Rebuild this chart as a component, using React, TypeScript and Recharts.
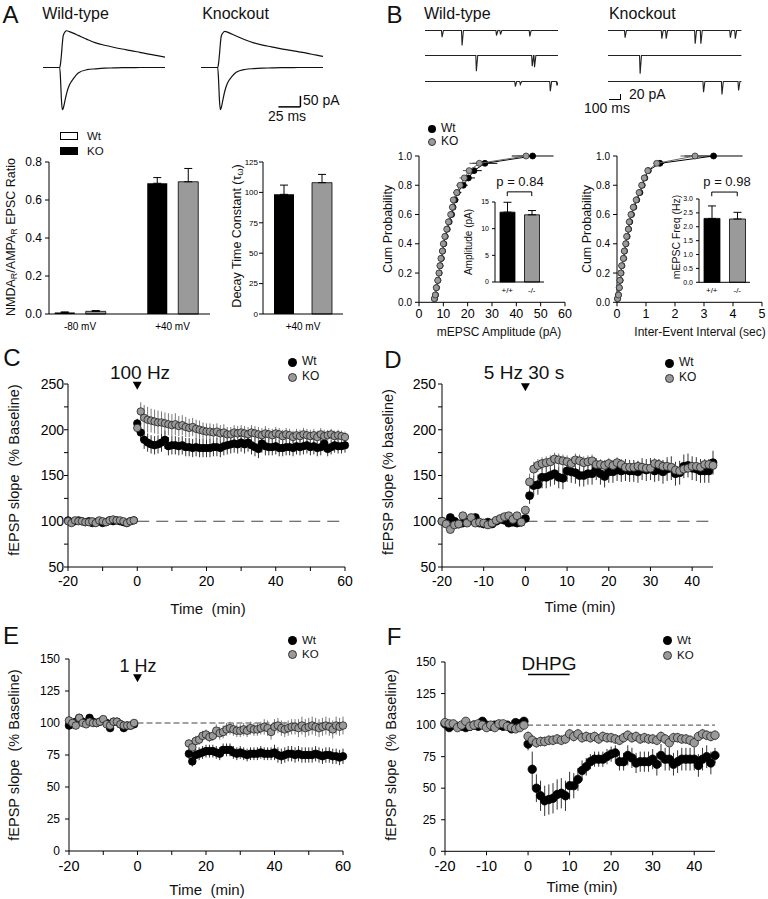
import type { ReactNode } from 'react'
import {
  Bar,
  BarChart,
  Cell,
  ComposedChart,
  ErrorBar,
  Line,
  LineChart,
  ReferenceDot,
  ReferenceLine,
  Scatter,
  XAxis,
  YAxis,
} from 'recharts'

const FONT = '"Liberation Sans", Arial, Helvetica, sans-serif'
const GREY = '#9a9a9a'

// ---------- A: evoked EPSCs (ms, pA) ----------
const epscTime = [0, 19, 20, 21, 22, 23, 25, 27, 30, 35, 40, 50, 60, 70, 80, 90, 100, 110, 120, 130, 139]
const wtPlus40 = [0, 0, 20, 60, 110, 145, 162, 167, 163, 155, 146, 128, 112, 101, 92, 84, 77, 69, 61, 54, 47]
const wtMinus80 = [0, 0, -60, -150, -192, -185, -150, -115, -80, -48, -25, -10, -6, -3, -2, -1, -1, 0, 0, 0, 0]
const koPlus40 = [0, 0, 20, 60, 108, 142, 158, 164, 161, 152, 143, 126, 112, 102, 94, 86, 79, 72, 65, 57, 50]
const koMinus80 = [0, 0, -60, -150, -192, -183, -145, -108, -72, -42, -22, -9, -5, -3, -2, -1, -1, 0, 0, 0, 0]

const ratioGroups = ['-80 mV', '+40 mV']
const ratioWt = [0.008, 0.688]
const ratioWtErr = [0.003, 0.03]
const ratioKo = [0.014, 0.696]
const ratioKoErr = [0.004, 0.07]

const decayGroups = ['+40 mV']
const decayWt = [98.4]
const decayWtErr = [7.6]
const decayKo = [108]
const decayKoErr = [6.8]

// ---------- B: mEPSC sweeps, events as [ms, pA] ----------
const wtSweeps = [
  [[138, 27], [303, 60], [587, 20], [620, 16], [862, 24]],
  [[421, 63], [882, 43], [901, 47]],
  [[744, 20], [785, 12], [1033, 39], [1088, 16]],
]
const koSweeps = [
  [[138, 29], [441, 33], [477, 33], [716, 53], [763, 53], [1006, 29], [1047, 33]],
  [[262, 73]],
  [[785, 43], [937, 52], [1074, 36]],
]

const cumLevels = [0.025, 0.05, 0.1, 0.15, 0.2, 0.25, 0.3, 0.35, 0.4, 0.45, 0.5, 0.55, 0.6, 0.65, 0.7, 0.75, 0.8, 0.85, 0.9, 0.95, 1.0]
const ampWt = [6.4, 6.8, 7.2, 7.8, 8.3, 8.7, 9.2, 9.7, 10.2, 10.8, 11.6, 12.4, 13.4, 14.0, 14.8, 15.7, 18.2, 20.3, 22.6, 27.1, 46.7]
const ampWtErr = [0.3, 0.3, 0.4, 0.4, 0.5, 0.5, 0.5, 0.6, 0.6, 0.7, 0.8, 0.9, 1.0, 1.2, 1.4, 1.7, 1.8, 2.7, 3.2, 5.1, 8.6]
const ampKo = [6.3, 6.7, 7.1, 7.7, 8.2, 8.6, 9.0, 9.6, 10.0, 10.6, 11.4, 12.1, 13.0, 13.7, 14.1, 15.5, 16.9, 18.6, 20.6, 24.8, 44.0]
const ampKoErr = [0.3, 0.3, 0.3, 0.4, 0.4, 0.5, 0.5, 0.5, 0.6, 0.6, 0.7, 0.8, 0.9, 1.0, 1.2, 1.4, 1.6, 2.0, 2.6, 4.1, 3.5]
const ieiWt = [0.02, 0.05, 0.08, 0.11, 0.14, 0.17, 0.23, 0.26, 0.31, 0.35, 0.4, 0.44, 0.5, 0.58, 0.68, 0.79, 0.87, 0.96, 1.08, 1.48, 3.33]
const ieiWtErr = [0.01, 0.01, 0.01, 0.01, 0.01, 0.01, 0.02, 0.02, 0.02, 0.02, 0.02, 0.03, 0.03, 0.03, 0.04, 0.04, 0.05, 0.06, 0.08, 0.15, 1.0]
const ieiKo = [0.02, 0.05, 0.08, 0.1, 0.13, 0.16, 0.22, 0.25, 0.3, 0.33, 0.39, 0.42, 0.48, 0.56, 0.66, 0.76, 0.85, 0.94, 1.06, 1.37, 2.69]
const ieiKoErr = [0.01, 0.01, 0.01, 0.01, 0.01, 0.01, 0.02, 0.02, 0.02, 0.02, 0.02, 0.03, 0.03, 0.03, 0.04, 0.04, 0.05, 0.05, 0.07, 0.12, 0.5]

const genotypes = ['+/+', '-/-']
const ampMean = [13.1, 12.6]
const ampSem = [1.85, 0.8]
const freqMean = [2.3, 2.28]
const freqSem = [0.45, 0.24]

// ---------- C: 100 Hz LTP ----------
const cTime = [-20, -19, -18, -17, -16, -15, -14, -13, -12, -11, -10, -9, -8, -7, -6, -5, -4, -3, -2, -1,
  0, 1, 2, 3, 4, 5, 6, 7, 8, 9, 10, 11, 12, 13, 14, 15, 16, 17, 18, 19, 20, 21, 22, 23, 24, 25, 26, 27, 28, 29,
  30, 31, 32, 33, 34, 35, 36, 37, 38, 39, 40, 41, 42, 43, 44, 45, 46, 47, 48, 49, 50, 51, 52, 53, 54, 55, 56, 57, 58, 59, 60]
const cWt = [101, 99, 100, 101, 100, 99, 100, 98, 99, 100, 98, 99, 101, 100, 101, 100, 99, 98, 100, 101,
  207, 197, 189, 186, 184, 183, 184, 186, 189, 182, 183, 183, 182, 183, 181, 181, 180, 181, 180, 180,
  180, 180, 181, 181, 180, 182, 183, 184, 185, 184, 186, 184, 186, 183, 181, 179, 185, 182, 181, 181,
  182, 180, 180, 181, 181, 180, 182, 181, 182, 183, 181, 182, 180, 181, 185, 179, 181, 183, 182, 182, 183]
const cWtErr = [2, 2, 2, 2, 2, 2, 2, 2, 2, 2, 2, 2, 2, 2, 2, 2, 2, 2, 2, 2,
  5, 9, 10, 10, 10, 10, 10, 10, 10, 10, 10, 10, 10, 10, 10, 10, 10, 10, 10, 10,
  10, 10, 10, 10, 10, 10, 10, 10, 10, 10, 10, 10, 10, 10, 10, 10, 10, 10, 9, 9,
  9, 9, 9, 9, 9, 9, 9, 9, 9, 9, 9, 9, 9, 9, 9, 8, 8, 8, 8, 8, 8]
const cKo = [100, 98, 101, 100, 100, 99, 99, 100, 98, 101, 100, 99, 101, 102, 101, 101, 100, 98, 100, 101,
  202, 220, 213, 211, 210, 209, 208, 208, 207, 206, 205, 206, 204, 205, 203, 202, 203, 201, 200, 199,
  198, 198, 197, 198, 196, 197, 195, 195, 197, 196, 197, 196, 195, 197, 196, 195, 194, 196, 195, 194,
  196, 195, 193, 195, 194, 192, 194, 193, 195, 194, 193, 194, 192, 195, 193, 194, 195, 193, 194, 193, 192]
const cKoErr = [2, 2, 2, 2, 2, 2, 2, 2, 2, 2, 2, 2, 2, 2, 2, 2, 2, 2, 2, 2,
  5, 10, 14, 14, 13, 13, 13, 12, 12, 12, 12, 12, 11, 11, 11, 10, 10, 10, 10, 9,
  9, 9, 9, 9, 9, 9, 8, 8, 8, 8, 8, 8, 8, 8, 8, 8, 8, 8, 7, 7,
  7, 7, 7, 7, 7, 7, 7, 7, 7, 7, 7, 7, 7, 7, 7, 6, 6, 6, 6, 6, 6]

// ---------- D: 5 Hz 30 s ----------
const dTime = [-20, -19, -18, -17, -16, -15, -14, -13, -12, -11, -10, -9, -8, -7, -6, -5, -4, -3, -2, -1,
  0, 1, 2, 3, 4, 5, 6, 7, 8, 9, 10, 11, 12, 13, 14, 15, 16, 17, 18, 19, 20, 21, 22, 23, 24, 25, 26, 27, 28, 29,
  30, 31, 32, 33, 34, 35, 36, 37, 38, 39, 40, 41, 42, 43, 44, 45]
const dWt = [100, 98, 104, 100, 97, 98, 99, 101, 104, 98, 97, 99, 97, 100, 102, 101, 98, 99, 98, 99,
  103, 128, 139, 140, 148, 148, 150, 152, 148, 147, 155, 154, 153, 150, 150, 152, 152, 157, 152, 149,
  154, 154, 156, 155, 156, 155, 155, 154, 157, 156, 157, 155, 156, 154, 157, 158, 152, 153, 160, 161,
  158, 157, 155, 155, 155, 164]
const dWtErr = [3, 3, 3, 3, 3, 3, 3, 3, 3, 3, 3, 3, 3, 3, 3, 3, 3, 3, 3, 3,
  4, 9, 11, 11, 12, 12, 12, 12, 12, 12, 12, 12, 12, 12, 12, 12, 12, 12, 12, 12,
  12, 12, 12, 12, 12, 12, 12, 12, 12, 12, 12, 12, 12, 13, 13, 13, 13, 13, 13, 13,
  13, 13, 13, 13, 13, 13]
const dKo = [100, 97, 91, 96, 97, 106, 98, 104, 98, 99, 98, 96, 98, 101, 103, 105, 106, 102, 106, 99,
  112, 143, 157, 161, 163, 164, 165, 168, 167, 166, 165, 163, 167, 166, 164, 165, 166, 162, 162, 161,
  163, 161, 164, 162, 159, 159, 159, 160, 159, 158, 158, 163, 162, 160, 160, 159, 156, 155, 157, 158,
  160, 160, 159, 162, 162, 161]
const dKoErr = [3, 3, 3, 3, 3, 3, 3, 3, 3, 3, 3, 3, 3, 3, 3, 3, 3, 3, 3, 3,
  4, 9, 8, 7, 7, 7, 7, 7, 7, 7, 7, 7, 7, 7, 7, 7, 7, 7, 6, 6,
  6, 6, 6, 6, 6, 6, 6, 6, 6, 6, 6, 6, 6, 6, 6, 6, 6, 6, 6, 6,
  6, 6, 6, 6, 6, 6]

// ---------- E: 1 Hz LTD ----------
const eTime = [-20, -19, -18, -17, -16, -15, -14, -13, -12, -11, -10, -9, -8, -7, -6, -5, -4, -3, -2, -1,
  15, 16, 17, 18, 19, 20, 21, 22, 23, 24, 25, 26, 27, 28, 29, 30, 31, 32, 33, 34, 35, 36, 37, 38, 39,
  40, 41, 42, 43, 44, 45, 46, 47, 48, 49, 50, 51, 52, 53, 54, 55, 56, 57, 58, 59, 60]
const eWt = [98, 99, 101, 104, 101, 100, 104, 101, 100, 101, 102, 100, 96, 101, 101, 99, 96, 98, 98, 99,
  76, 70, 75, 76, 77, 78, 78, 78, 77, 76, 79, 79, 79, 77, 76, 77, 76, 75, 76, 76, 76, 77, 76, 76, 76,
  77, 75, 74, 75, 76, 76, 75, 76, 75, 75, 75, 75, 76, 75, 74, 75, 75, 74, 74, 73, 74]
const eWtErr = [2, 2, 2, 2, 2, 2, 2, 2, 2, 2, 2, 2, 2, 2, 2, 2, 2, 2, 2, 2,
  4, 4, 5, 5, 5, 5, 5, 5, 5, 5, 5, 5, 5, 5, 5, 5, 5, 5, 5, 5, 5, 5, 5, 5, 5,
  6, 6, 6, 6, 6, 6, 6, 6, 6, 6, 6, 6, 6, 6, 6, 6, 6, 6, 6, 6, 6]
const eKo = [102, 100, 98, 104, 100, 99, 101, 100, 100, 101, 103, 99, 98, 101, 101, 99, 98, 98, 98, 100,
  84, 81, 86, 87, 90, 91, 89, 90, 94, 92, 93, 95, 96, 95, 94, 94, 95, 94, 96, 95, 95, 96, 97, 96, 93,
  97, 98, 96, 95, 96, 97, 97, 96, 98, 96, 97, 98, 97, 96, 97, 98, 97, 95, 98, 97, 98]
const eKoErr = [2, 2, 2, 2, 2, 2, 2, 2, 2, 2, 2, 2, 2, 2, 2, 2, 2, 2, 2, 2,
  3, 3, 4, 4, 4, 4, 4, 4, 5, 5, 5, 5, 5, 5, 5, 5, 5, 5, 5, 5, 5, 5, 6, 6, 6,
  6, 6, 6, 6, 6, 6, 6, 7, 7, 7, 7, 7, 7, 7, 7, 7, 7, 7, 7, 7, 7]

// ---------- F: DHPG LTD ----------
const fTime = dTime
const fWt = [101, 98, 100, 99, 99, 98, 99, 100, 99, 103, 100, 99, 100, 100, 99, 100, 97, 102, 101, 103,
  85, 65, 50, 44, 40, 41, 42, 45, 46, 44, 52, 52, 57, 64, 67, 71, 73, 73, 73, 75,
  77, 78, 71, 71, 76, 74, 70, 71, 71, 71, 73, 69, 76, 73, 73, 69, 71, 73, 73, 73,
  73, 68, 73, 75, 70, 76]
const fWtErr = [2, 2, 2, 2, 2, 2, 2, 2, 2, 2, 2, 2, 2, 2, 2, 2, 2, 2, 2, 2,
  5, 14, 11, 12, 12, 12, 12, 12, 12, 12, 11, 10, 9, 8, 7, 6, 6, 6, 6, 6,
  6, 6, 7, 7, 8, 8, 8, 8, 8, 8, 8, 9, 9, 9, 9, 9, 9, 9, 9, 9,
  9, 9, 9, 9, 9, 6]
const fKo = [102, 101, 101, 98, 100, 103, 99, 100, 101, 100, 98, 100, 98, 101, 101, 99, 98, 97, 98, 100,
  91, 88, 86, 87, 87, 88, 88, 89, 88, 89, 93, 91, 93, 90, 91, 90, 91, 89, 91, 90,
  90, 89, 88, 90, 92, 90, 91, 89, 90, 89, 89, 88, 91, 89, 86, 90, 90, 89, 89, 88,
  86, 91, 93, 92, 91, 92]
const fKoErr = [2, 2, 2, 2, 2, 2, 2, 2, 2, 2, 2, 2, 2, 2, 2, 2, 2, 2, 2, 2,
  4, 4, 4, 4, 4, 4, 4, 4, 4, 4, 4, 4, 4, 4, 4, 4, 4, 4, 4, 4,
  4, 4, 4, 4, 4, 4, 4, 4, 4, 4, 4, 4, 4, 4, 4, 4, 4, 4, 4, 4,
  4, 4, 4, 4, 4, 4]

// ---------- layout helpers ----------
type Box = { x0: number; x1: number; y0: number; y1: number }

function place(b: Box, yw: number, xh: number, mt = 12, mr = 12) {
  return {
    style: { position: 'absolute' as const, left: b.x0 - yw, top: b.y0 - mt },
    width: b.x1 - b.x0 + yw + mr,
    height: b.y1 - b.y0 + mt + xh,
    margin: { top: mt, right: mr, left: 0, bottom: 0 },
  }
}

function Txt({ x, y, size, rot, anchor = 'middle', children }: {
  x: number; y: number; size: number; rot?: boolean; anchor?: 'start' | 'middle' | 'end'; children: ReactNode
}) {
  const shift = anchor === 'start' ? '0%' : anchor === 'end' ? '-100%' : '-50%'
  return (
    <div
      style={{
        position: 'absolute', left: x, top: y, fontSize: size, lineHeight: 1.1, whiteSpace: 'nowrap',
        transform: `translate(${shift}, -50%)${rot ? ' rotate(-90deg)' : ''}`,
      }}
    >
      {children}
    </div>
  )
}

function LegendDot({ x, y, r, fill }: { x: number; y: number; r: number; fill: string }) {
  return (
    <div
      style={{
        position: 'absolute', left: x - r, top: y - r, width: 2 * r, height: 2 * r, borderRadius: '50%',
        background: fill, boxSizing: 'border-box', border: fill === '#000' ? 'none' : '0.8px solid #333',
      }}
    />
  )
}

const dotShape = (r: number, fill: string, stroke: string) => (p: any) => (
  <circle cx={p.cx} cy={p.cy} r={r} fill={fill} stroke={stroke} strokeWidth={0.8} />
)
const triangle = (p: any) => (
  <path d={`M${p.cx - 4.5},${p.cy - 4}L${p.cx + 4.5},${p.cy - 4}L${p.cx},${p.cy + 4}Z`} fill="#000" />
)

const axisLine = { stroke: '#000', strokeWidth: 1 }
const labelOnly = (majors: number[], digits = 0) => (v: number) =>
  majors.includes(v) ? v.toFixed(digits) : ''

// ---------- A ----------
function EpscTraces({ box, pos, neg, scaleBar }: { box: Box; pos: number[]; neg: number[]; scaleBar?: boolean }) {
  const data = epscTime.map((t, i) => ({ t, pos: pos[i], neg: neg[i] }))
  const p = place(box, 0, 0, 0, 0)
  return (
    <div style={p.style}>
      <LineChart width={p.width} height={p.height} margin={p.margin} data={data}>
        <XAxis hide type="number" dataKey="t" domain={[0, 139]} height={0} />
        <YAxis hide type="number" domain={[-200, 175]} width={0} />
        <Line dataKey="pos" type="monotone" stroke="#111" strokeWidth={1.2} dot={false} isAnimationActive={false} />
        <Line dataKey="neg" type="monotone" stroke="#111" strokeWidth={1.2} dot={false} isAnimationActive={false} />
        {scaleBar && (
          <>
            <ReferenceLine segment={[{ x: 88, y: -179 }, { x: 113, y: -179 }]} stroke="#000" strokeWidth={1.5} ifOverflow="visible" />
            <ReferenceLine segment={[{ x: 113, y: -179 }, { x: 113, y: -129 }]} stroke="#000" strokeWidth={1.5} ifOverflow="visible" />
          </>
        )}
      </LineChart>
    </div>
  )
}

function GroupBars({ box, groups, wt, wtErr, ko, koErr, yMax, yTicks, digits, yFont, yGap, barGap, padding }: {
  box: Box; groups: string[]; wt: number[]; wtErr: number[]; ko: number[]; koErr: number[]; yMax: number
  yTicks: number[]; digits: number; yFont: number; yGap: number; barGap: number; padding: { left: number; right: number }
}) {
  const data = groups.map((g, i) => ({ g, wt: wt[i], ko: ko[i], wtE: [0, wtErr[i]], koE: [0, koErr[i]] }))
  const p = place(box, 40, 24)
  return (
    <div style={p.style}>
      <BarChart width={p.width} height={p.height} margin={p.margin} data={data} barSize={20} barGap={barGap}>
        <XAxis dataKey="g" axisLine={axisLine} tickLine={false} tickSize={0} tickMargin={9} padding={padding}
          tick={{ fill: '#000', fontSize: 10 }} interval={0} height={24} />
        <YAxis type="number" domain={[0, yMax]} ticks={yTicks} interval={0} axisLine={axisLine}
          tickLine={{ stroke: '#000' }} tickSize={4} tickMargin={yGap} width={40}
          tick={{ fill: '#000', fontSize: yFont }} tickFormatter={(v: number) => v.toFixed(digits)} />
        <Bar dataKey="wt" fill="#000" isAnimationActive={false}>
          <ErrorBar dataKey="wtE" width={4} stroke="#000" strokeWidth={1} isAnimationActive={false} />
        </Bar>
        <Bar dataKey="ko" fill={GREY} stroke="#000" strokeWidth={0.8} isAnimationActive={false}>
          <ErrorBar dataKey="koE" width={4} stroke="#000" strokeWidth={1} isAnimationActive={false} />
        </Bar>
      </BarChart>
    </div>
  )
}

// ---------- B ----------
function Sweep({ box, events }: { box: Box; events: number[][] }) {
  const data = [{ t: 0, v: 0 }]
  events.forEach(([t, a]) => {
    data.push({ t: t - 2, v: 0 }, { t: t + 3, v: -a }, { t: t + 14, v: 0 })
  })
  data.push({ t: 1100, v: 0 })
  const p = place(box, 0, 0, 0, 0)
  return (
    <div style={p.style}>
      <LineChart width={p.width} height={p.height} margin={p.margin} data={data}>
        <XAxis hide type="number" dataKey="t" domain={[0, 1100]} height={0} />
        <YAxis hide type="number" domain={[-80, 10]} width={0} />
        <Line dataKey="v" type="linear" stroke="#222" strokeWidth={1.1} dot={false} isAnimationActive={false} />
      </LineChart>
    </div>
  )
}

function CumPlot({ box, wt, wtErr, ko, koErr, xMax, xTicks }: {
  box: Box; wt: number[]; wtErr: number[]; ko: number[]; koErr: number[]; xMax: number; xTicks: number[]
}) {
  const wtData = cumLevels.map((y, i) => ({ y, x: wt[i], ex: wtErr[i] }))
  const koData = cumLevels.map((y, i) => ({ y, x: ko[i], ex: koErr[i] }))
  const p = place(box, 40, 24)
  return (
    <div style={p.style}>
      <ComposedChart width={p.width} height={p.height} margin={p.margin}>
        <XAxis type="number" dataKey="x" domain={[0, xMax]} ticks={xTicks} interval={0} axisLine={axisLine}
          tickLine={{ stroke: '#000' }} tickSize={4} tickMargin={3} height={24} tick={{ fill: '#000', fontSize: 12.5 }} />
        <YAxis type="number" dataKey="y" domain={[0, 1]} ticks={[0, 0.2, 0.4, 0.6, 0.8, 1]} interval={0}
          axisLine={axisLine} tickLine={{ stroke: '#000' }} tickSize={4} tickMargin={3} width={40}
          tick={{ fill: '#000', fontSize: 10 }} tickFormatter={(v: number) => v.toFixed(1)} />
        <Scatter data={wtData} line={{ stroke: '#000', strokeWidth: 1 }} lineType="joint"
          shape={dotShape(3, '#000', '#000')} isAnimationActive={false}>
          <ErrorBar dataKey="ex" direction="x" width={0} stroke="#000" strokeWidth={1} isAnimationActive={false} />
        </Scatter>
        <Scatter data={koData} line={{ stroke: '#666', strokeWidth: 1 }} lineType="joint"
          shape={dotShape(3, GREY, '#333')} isAnimationActive={false}>
          <ErrorBar dataKey="ex" direction="x" width={0} stroke="#555" strokeWidth={1} isAnimationActive={false} />
        </Scatter>
      </ComposedChart>
    </div>
  )
}

function InsetBars({ box, mean, sem, yMax, yTicks, digits, barSize, bracket, leg }: {
  box: Box; mean: number[]; sem: number[]; yMax: number; yTicks: number[]; digits: number; barSize: number
  bracket: number; leg: number
}) {
  const data = genotypes.map((g, i) => ({ g, v: mean[i], e: [0, sem[i]] }))
  const p = place(box, 30, 16, 20, 6)
  return (
    <div style={p.style}>
      <BarChart width={p.width} height={p.height} margin={p.margin} data={data} barSize={barSize}>
        <XAxis dataKey="g" axisLine={axisLine} tickLine={false} tickSize={0} tickMargin={5} interval={0}
          height={16} tick={{ fill: '#000', fontSize: 8 }} />
        <YAxis type="number" domain={[0, yMax]} ticks={yTicks} interval={0} axisLine={axisLine}
          tickLine={{ stroke: '#000' }} tickSize={3} tickMargin={3} width={30}
          tick={{ fill: '#000', fontSize: 7 }} tickFormatter={(v: number) => v.toFixed(digits)} />
        <Bar dataKey="v" stroke="#000" strokeWidth={0.8} isAnimationActive={false}>
          {data.map((d, i) => <Cell key={d.g} fill={i === 0 ? '#000' : GREY} />)}
          <ErrorBar dataKey="e" width={4} stroke="#000" strokeWidth={1} isAnimationActive={false} />
        </Bar>
        <ReferenceLine segment={[{ x: '+/+', y: leg }, { x: '+/+', y: bracket }]} stroke="#000" ifOverflow="visible" />
        <ReferenceLine segment={[{ x: '+/+', y: bracket }, { x: '-/-', y: bracket }]} stroke="#000" ifOverflow="visible" />
        <ReferenceLine segment={[{ x: '-/-', y: bracket }, { x: '-/-', y: leg }]} stroke="#000" ifOverflow="visible" />
      </BarChart>
    </div>
  )
}

// ---------- C-F ----------
function TimeCourse(props: {
  box: Box; time: number[]; wt: number[]; wtErr: number[]; ko: number[]; koErr: number[]
  xDomain: [number, number]; xTicks: number[]; xLabels: number[]
  yDomain: [number, number]; yTicks: number[]; yLabels: number[]
  xFont: number; yFont: number; xGap: number; yGap: number; r: number; dash: string; dashEnd: number
  children?: ReactNode
}) {
  const { box, time, wt, wtErr, ko, koErr } = props
  const wtData = time.map((t, i) => ({ t, v: wt[i], e: wtErr[i] }))
  const koData = time.map((t, i) => ({ t, v: ko[i], e: koErr[i] }))
  const p = place(box, 50, 30)
  return (
    <div style={p.style}>
      <ComposedChart width={p.width} height={p.height} margin={p.margin}>
        <XAxis type="number" dataKey="t" domain={props.xDomain} ticks={props.xTicks} interval={0}
          axisLine={axisLine} tickLine={{ stroke: '#000' }} tickSize={4} tickMargin={props.xGap} height={30}
          tick={{ fill: '#000', fontSize: props.xFont }} tickFormatter={labelOnly(props.xLabels)} />
        <YAxis type="number" dataKey="v" domain={props.yDomain} ticks={props.yTicks} interval={0}
          axisLine={axisLine} tickLine={{ stroke: '#000' }} tickSize={4} tickMargin={props.yGap} width={50}
          tick={{ fill: '#000', fontSize: props.yFont }} tickFormatter={labelOnly(props.yLabels)} />
        <ReferenceLine segment={[{ x: 0, y: 100 }, { x: props.dashEnd, y: 100 }]} stroke="#444"
          strokeWidth={1} strokeDasharray={props.dash} />
        <Scatter data={wtData} shape={dotShape(props.r, '#000', '#000')} isAnimationActive={false}>
          <ErrorBar dataKey="e" direction="y" width={0} stroke="#333" strokeWidth={1} isAnimationActive={false} />
        </Scatter>
        <Scatter data={koData} shape={dotShape(props.r, GREY, '#222')} isAnimationActive={false}>
          <ErrorBar dataKey="e" direction="y" width={0} stroke="#777" strokeWidth={1} isAnimationActive={false} />
        </Scatter>
        {props.children}
      </ComposedChart>
    </div>
  )
}

const rowBase = [30, 55.5, 81]
const tens = [-20, -10, 0, 10, 20, 30, 40, 50, 60]
const twenties = [-20, 0, 20, 40, 60]

export default function App() {
  return (
    <div style={{ position: 'absolute', left: 0, top: 0, width: 768, height: 899, background: '#fff', fontFamily: FONT, color: '#111', overflow: 'hidden' }}>
      {/* ---------- A ---------- */}
      <Txt x={10.5} y={15} size={24}>A</Txt>
      <Txt x={75.5} y={13.5} size={16}>Wild-type</Txt>
      <Txt x={235.5} y={13.5} size={16}>Knockout</Txt>
      <EpscTraces box={{ x0: 42.7, x1: 165, y0: 29.2, y1: 111.7 }} pos={wtPlus40} neg={wtMinus80} />
      <EpscTraces box={{ x0: 201, x1: 323.3, y0: 29.2, y1: 111.7 }} pos={koPlus40} neg={koMinus80} scaleBar />
      <Txt x={303} y={101} size={14} anchor="start">50 pA</Txt>
      <Txt x={287} y={116.5} size={14}>25 ms</Txt>
      <div style={{ position: 'absolute', left: 60, top: 132, width: 18, height: 8, border: '1px solid #000', boxSizing: 'border-box' }} />
      <div style={{ position: 'absolute', left: 60, top: 147, width: 18, height: 8, background: '#000' }} />
      <Txt x={87} y={136} size={11.5} anchor="start">Wt</Txt>
      <Txt x={87} y={151} size={11.5} anchor="start">KO</Txt>

      <GroupBars box={{ x0: 49, x1: 210, y0: 162, y1: 314 }} groups={ratioGroups} wt={ratioWt} wtErr={ratioWtErr}
        ko={ratioKo} koErr={ratioKoErr} yMax={0.8} yTicks={[0, 0.2, 0.4, 0.6, 0.8]} digits={1} yFont={12} yGap={3}
        barGap={11} padding={{ left: -15.25, right: -8.75 }} />
      <Txt x={12} y={237} size={12.5} rot>
        NMDA<span style={{ fontSize: 9, verticalAlign: -2 }}>R</span>/AMPA<span style={{ fontSize: 9, verticalAlign: -2 }}>R</span> EPSC Ratio
      </Txt>
      <GroupBars box={{ x0: 263, x1: 343, y0: 162, y1: 314 }} groups={decayGroups} wt={decayWt} wtErr={decayWtErr}
        ko={decayKo} koErr={decayKoErr} yMax={125} yTicks={[0, 25, 50, 75, 100, 125]} digits={0} yFont={8} yGap={1}
        barGap={18} padding={{ left: 0, right: 0 }} />
      <Txt x={238} y={236} size={12.5} rot>
        Decay Time Constant (τ<span style={{ fontSize: 9, verticalAlign: -2 }}>ω</span>)
      </Txt>

      {/* ---------- B ---------- */}
      <Txt x={394.5} y={15} size={24}>B</Txt>
      <Txt x={457.3} y={13.5} size={16}>Wild-type</Txt>
      <Txt x={642.3} y={13.5} size={16}>Knockout</Txt>
      {wtSweeps.map((ev, i) => (
        <Sweep key={`w${i}`} box={{ x0: 425, x1: 558.3, y0: rowBase[i] - 2.5, y1: rowBase[i] + 20 }} events={ev} />
      ))}
      {koSweeps.map((ev, i) => (
        <Sweep key={`k${i}`} box={{ x0: 608.3, x1: 741.7, y0: rowBase[i] - 2.5, y1: rowBase[i] + 20 }} events={ev} />
      ))}
      <div style={{ position: 'absolute', left: 609, top: 98.5, width: 12, height: 1.5, background: '#000' }} />
      <div style={{ position: 'absolute', left: 619.5, top: 93.5, width: 1.5, height: 6.5, background: '#000' }} />
      <Txt x={629} y={95} size={14} anchor="start">20 pA</Txt>
      <Txt x={607} y={108.5} size={14}>100 ms</Txt>
      <LegendDot x={431.7} y={129.3} r={4} fill="#000" />
      <LegendDot x={431.7} y={141.7} r={4} fill={GREY} />
      <Txt x={441} y={129.3} size={12} anchor="start">Wt</Txt>
      <Txt x={441} y={141.7} size={12} anchor="start">KO</Txt>

      <CumPlot box={{ x0: 419, x1: 565, y0: 156, y1: 302.3 }} wt={ampWt} wtErr={ampWtErr} ko={ampKo} koErr={ampKoErr}
        xMax={60} xTicks={[0, 10, 20, 30, 40, 50, 60]} />
      <Txt x={389} y={229} size={12.5} rot>Cum Probability</Txt>
      <Txt x={499} y={333} size={12}>mEPSC Amplitude (pA)</Txt>
      <InsetBars box={{ x0: 495, x1: 544, y0: 202.3, y1: 282.3 }} mean={ampMean} sem={ampSem} yMax={15}
        yTicks={[0, 5, 10, 15]} digits={0} barSize={15} bracket={16.9} leg={16.1} />
      <Txt x={468} y={242} size={10} rot>Amplitude (pA)</Txt>
      <Txt x={520} y={182} size={13}>p = 0.84</Txt>

      <CumPlot box={{ x0: 617, x1: 762, y0: 156, y1: 302.3 }} wt={ieiWt} wtErr={ieiWtErr} ko={ieiKo} koErr={ieiKoErr}
        xMax={5} xTicks={[0, 1, 2, 3, 4, 5]} />
      <Txt x={588.3} y={229} size={12.5} rot>Cum Probability</Txt>
      <Txt x={700} y={333} size={12}>Inter-Event Interval (sec)</Txt>
      <InsetBars box={{ x0: 699, x1: 750, y0: 199, y1: 282.3 }} mean={freqMean} sem={freqSem} yMax={3}
        yTicks={[0, 0.5, 1, 1.5, 2, 2.5, 3]} digits={1} barSize={16} bracket={3.25} leg={3.1} />
      <Txt x={677} y={237} size={10.5} rot>mEPSC Freq (Hz)</Txt>
      <Txt x={727} y={182} size={13}>p = 0.98</Txt>

      {/* ---------- C ---------- */}
      <Txt x={12} y={358} size={24}>C</Txt>
      <TimeCourse box={{ x0: 68, x1: 345, y0: 384, y1: 567 }} time={cTime} wt={cWt} wtErr={cWtErr} ko={cKo} koErr={cKoErr}
        xDomain={[-20, 60]} xTicks={tens} xLabels={twenties}
        yDomain={[50, 250]} yTicks={[50, 75, 100, 125, 150, 175, 200, 225, 250]} yLabels={[50, 100, 150, 200, 250]}
        xFont={14} yFont={14} xGap={5} yGap={0} r={3.7} dash="12 7" dashEnd={60}>
        <ReferenceDot x={0} y={248} shape={triangle} ifOverflow="visible" />
      </TimeCourse>
      <Txt x={140} y={373} size={19}>100 Hz</Txt>
      <LegendDot x={292} y={362} r={4.5} fill="#000" />
      <LegendDot x={292} y={377} r={4.5} fill={GREY} />
      <Txt x={302} y={362} size={12} anchor="start">Wt</Txt>
      <Txt x={302} y={377} size={12} anchor="start">KO</Txt>
      <Txt x={15} y={470} size={14.5} rot>fEPSP slope&nbsp; (% Baseline)</Txt>
      <Txt x={208} y={609} size={15}>Time&nbsp; (min)</Txt>

      {/* ---------- D ---------- */}
      <Txt x={393} y={360} size={24}>D</Txt>
      <TimeCourse box={{ x0: 442, x1: 713, y0: 384, y1: 567 }} time={dTime} wt={dWt} wtErr={dWtErr} ko={dKo} koErr={dKoErr}
        xDomain={[-20, 45]} xTicks={[-20, -10, 0, 10, 20, 30, 40]} xLabels={tens}
        yDomain={[50, 250]} yTicks={[50, 75, 100, 125, 150, 175, 200, 225, 250]} yLabels={[50, 100, 150, 200, 250]}
        xFont={14} yFont={14} xGap={5} yGap={2} r={4} dash="12 7" dashEnd={45}>
        <ReferenceDot x={0} y={246.5} shape={triangle} ifOverflow="visible" />
      </TimeCourse>
      <Txt x={524} y={373} size={19}>5 Hz 30 s</Txt>
      <LegendDot x={669} y={363} r={4.5} fill="#000" />
      <LegendDot x={669} y={378} r={4.5} fill={GREY} />
      <Txt x={679} y={363} size={12} anchor="start">Wt</Txt>
      <Txt x={679} y={378} size={12} anchor="start">KO</Txt>
      <Txt x={389} y={472} size={14.5} rot>fEPSP slope (% baseline)</Txt>
      <Txt x={580} y={607} size={15}>Time (min)</Txt>

      {/* ---------- E ---------- */}
      <Txt x={11} y={636} size={24}>E</Txt>
      <TimeCourse box={{ x0: 69, x1: 343, y0: 659, y1: 851 }} time={eTime} wt={eWt} wtErr={eWtErr} ko={eKo} koErr={eKoErr}
        xDomain={[-20, 60]} xTicks={tens} xLabels={twenties}
        yDomain={[0, 150]} yTicks={[0, 25, 50, 75, 100, 125, 150]} yLabels={[0, 25, 50, 75, 100, 125, 150]}
        xFont={14.5} yFont={12} xGap={6} yGap={5} r={3.8} dash="6 3" dashEnd={60}>
        <ReferenceDot x={0} y={135} shape={triangle} ifOverflow="visible" />
      </TimeCourse>
      <Txt x={138} y={667} size={18}>1 Hz</Txt>
      <LegendDot x={292} y={640} r={4.5} fill="#000" />
      <LegendDot x={292} y={654} r={4.5} fill={GREY} />
      <Txt x={302} y={640} size={11.5} anchor="start">Wt</Txt>
      <Txt x={302} y={654} size={11.5} anchor="start">KO</Txt>
      <Txt x={15} y={755} size={14.5} rot>fEPSP slope&nbsp; (% Baseline)</Txt>
      <Txt x={207} y={890} size={15}>Time&nbsp; (min)</Txt>

      {/* ---------- F ---------- */}
      <Txt x={394} y={637} size={24}>F</Txt>
      <TimeCourse box={{ x0: 445, x1: 715, y0: 661.7, y1: 851 }} time={fTime} wt={fWt} wtErr={fWtErr} ko={fKo} koErr={fKoErr}
        xDomain={[-20, 45]} xTicks={[-20, -10, 0, 10, 20, 30, 40]} xLabels={tens}
        yDomain={[0, 150]} yTicks={[0, 25, 50, 75, 100, 125, 150]} yLabels={[0, 25, 50, 75, 100, 125, 150]}
        xFont={14.5} yFont={12} xGap={5} yGap={5} r={4.2} dash="5 3" dashEnd={45}>
        <ReferenceLine segment={[{ x: 0, y: 140 }, { x: 10, y: 140 }]} stroke="#000" strokeWidth={1.5} ifOverflow="visible" />
      </TimeCourse>
      <Txt x={549} y={664} size={19}>DHPG</Txt>
      <LegendDot x={667} y={640} r={4.5} fill="#000" />
      <LegendDot x={667} y={655} r={4.5} fill={GREY} />
      <Txt x={677} y={640} size={11.5} anchor="start">Wt</Txt>
      <Txt x={677} y={655} size={11.5} anchor="start">KO</Txt>
      <Txt x={392} y={755} size={14.5} rot>fEPSP slope&nbsp; (% Baseline)</Txt>
      <Txt x={582} y={887} size={15}>Time (min)</Txt>
    </div>
  )
}
